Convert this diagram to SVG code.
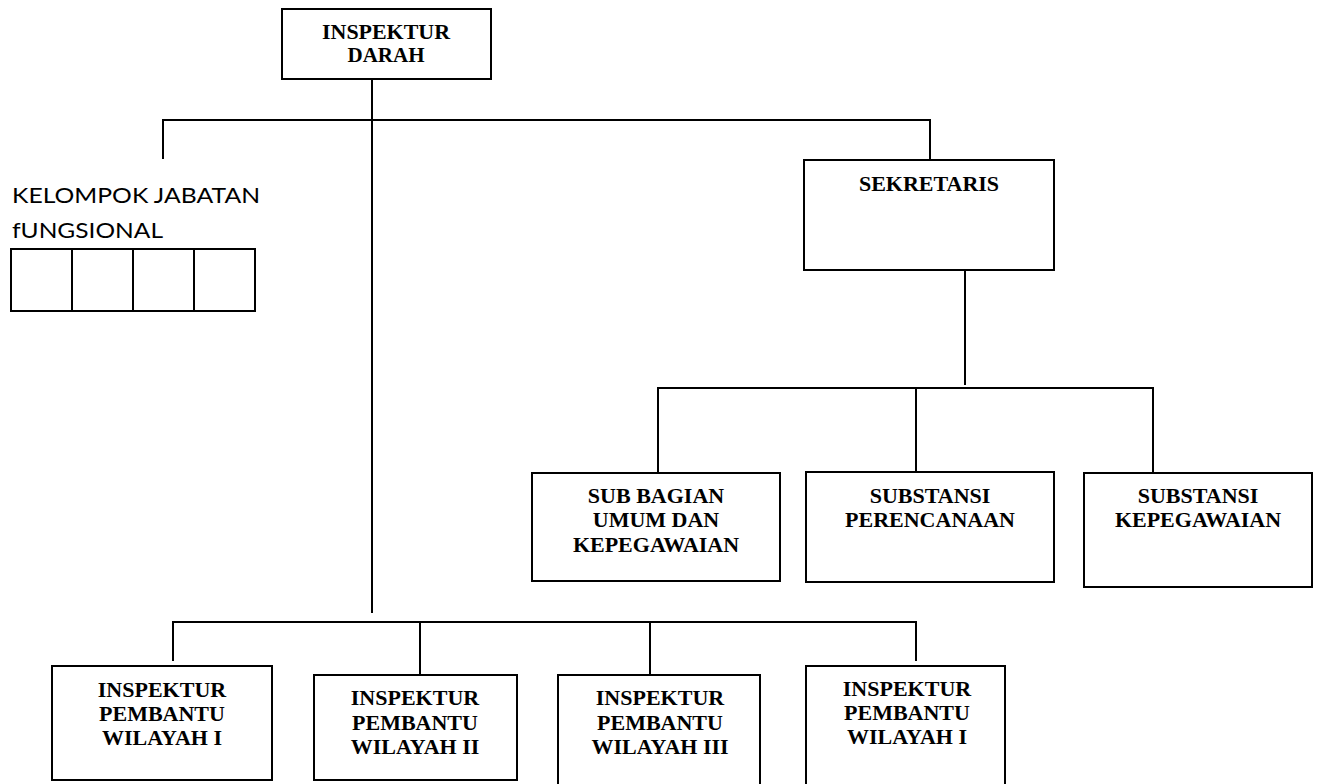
<svg xmlns="http://www.w3.org/2000/svg" width="1317" height="784" viewBox="0 0 1317 784">
<style>
.box{fill:#fff;stroke:#000;stroke-width:2}
.ln{fill:none;stroke:#000;stroke-width:2}
.t{font-family:"Liberation Serif","Tinos","Times New Roman","DejaVu Serif",serif;font-weight:bold;font-size:22px;fill:#000;text-anchor:middle}
.s{font-family:"Lato","Liberation Sans",Arial,sans-serif;font-size:21px;fill:#000}
</style>
<rect width="1317" height="784" fill="#fff"/>
<g id="connectors" class="ln">
<path d="M372 79V613"/>
<path d="M163 159V120H930V160"/>
<path d="M965 270V385"/>
<path d="M658 473V388H1153V473"/>
<path d="M916 388V472"/>
<path d="M173 661V622H916V661"/>
<path d="M420 622V675"/>
<path d="M650 622V675"/>
</g>
<g id="inspektur-darah">
<rect class="box" x="282" y="9" width="209" height="70"/>
<text class="t" x="386" y="39" style="font-size:21px" textLength="128" lengthAdjust="spacingAndGlyphs">INSPEKTUR</text>
<text class="t" x="386" y="62" style="font-size:21px">DARAH</text>
</g>
<g id="kelompok-jabatan">
<text class="s" x="12" y="203" textLength="248" lengthAdjust="spacingAndGlyphs">KELOMPOK JABATAN</text>
<text class="s" x="12" y="238" textLength="151" lengthAdjust="spacingAndGlyphs">fUNGSIONAL</text>
<rect class="box" x="11" y="249" width="61" height="62"/>
<rect class="box" x="72" y="249" width="61" height="62"/>
<rect class="box" x="133" y="249" width="61" height="62"/>
<rect class="box" x="194" y="249" width="61" height="62"/>
</g>
<g id="sekretaris">
<rect class="box" x="804" y="160" width="250" height="110"/>
<text class="t" x="929" y="191">SEKRETARIS</text>
</g>
<g id="sub-bagian-umum">
<rect class="box" x="532" y="473" width="248" height="108"/>
<text class="t" x="656" y="503">SUB BAGIAN</text>
<text class="t" x="656" y="527">UMUM DAN</text>
<text class="t" x="656" y="552">KEPEGAWAIAN</text>
</g>
<g id="substansi-perencanaan">
<rect class="box" x="806" y="472" width="248" height="110"/>
<text class="t" x="930" y="503">SUBSTANSI</text>
<text class="t" x="930" y="527">PERENCANAAN</text>
</g>
<g id="substansi-kepegawaian">
<rect class="box" x="1084" y="473" width="228" height="114"/>
<text class="t" x="1198" y="503">SUBSTANSI</text>
<text class="t" x="1198" y="527">KEPEGAWAIAN</text>
</g>
<g id="ipw-1">
<rect class="box" x="52" y="666" width="220" height="114"/>
<text class="t" x="162" y="697">INSPEKTUR</text>
<text class="t" x="162" y="721">PEMBANTU</text>
<text class="t" x="162" y="745">WILAYAH I</text>
</g>
<g id="ipw-2">
<rect class="box" x="314" y="675" width="203" height="105"/>
<text class="t" x="415" y="705">INSPEKTUR</text>
<text class="t" x="415" y="730">PEMBANTU</text>
<text class="t" x="415" y="754">WILAYAH II</text>
</g>
<g id="ipw-3">
<rect class="box" x="558" y="675" width="202" height="115"/>
<text class="t" x="660" y="705">INSPEKTUR</text>
<text class="t" x="660" y="730">PEMBANTU</text>
<text class="t" x="660" y="754">WILAYAH III</text>
</g>
<g id="ipw-4">
<rect class="box" x="806" y="666" width="199" height="124"/>
<text class="t" x="907" y="696">INSPEKTUR</text>
<text class="t" x="907" y="720">PEMBANTU</text>
<text class="t" x="907" y="744">WILAYAH I</text>
</g>
</svg>
